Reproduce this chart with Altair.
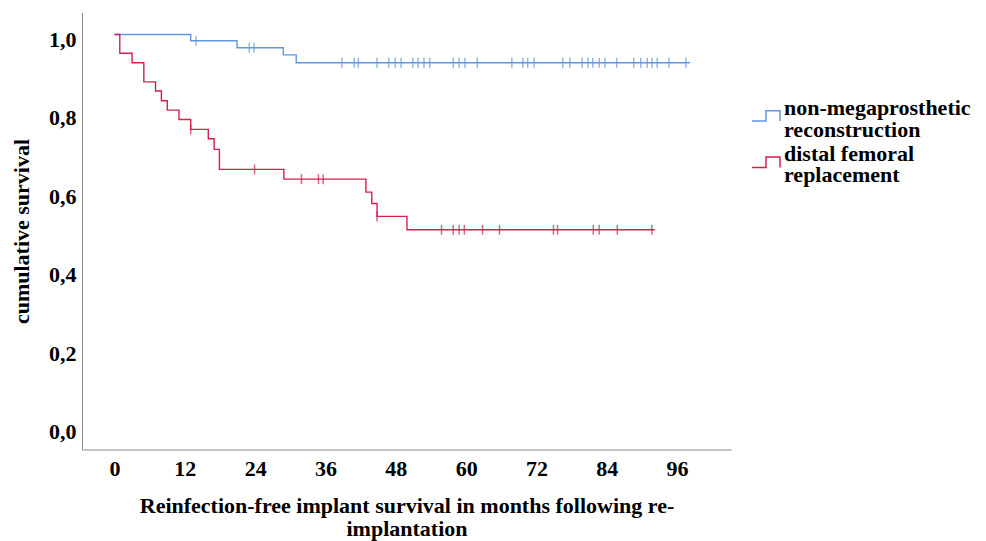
import altair as alt
import pandas as pd

groups = ["non-megaprosthetic reconstruction", "distal femoral replacement"]
legend_lines = [["non-megaprosthetic", "reconstruction"], ["distal femoral", "replacement"]]
colors = ["#5f97e2", "#d61f4a"]

# Kaplan-Meier steps (months, cumulative survival)
blue_event_months = [0, 13.0, 20.9, 28.8, 31.0, 98.2]
blue_survival = [1.0, 0.984, 0.966, 0.948, 0.928, 0.928]
blue_censored_months = [13.9, 23.0, 23.8, 38.8, 40.9, 41.6, 44.8, 46.8, 47.9, 48.9,
                        50.9, 51.8, 52.8, 53.8, 57.8, 58.8, 59.8, 61.9, 67.8, 69.7,
                        70.5, 71.6, 76.5, 77.7, 79.8, 80.8, 81.6, 82.7, 83.7, 85.7,
                        88.6, 89.8, 90.9, 91.7, 92.6, 94.6, 97.5]

red_event_months = [0, 0.9, 3.0, 5.0, 7.0, 8.0, 9.0, 11.0, 13.0, 16.0, 17.0, 17.9,
                    28.9, 42.9, 43.9, 44.8, 49.9, 92.2]
red_survival = [1.0, 0.952, 0.928, 0.879, 0.856, 0.831, 0.807, 0.783, 0.758, 0.734,
                0.707, 0.656, 0.631, 0.598, 0.569, 0.536, 0.502, 0.502]
red_censored_months = [13.0, 23.9, 31.9, 34.8, 35.6, 44.8, 55.8, 57.8, 58.8, 59.7,
                       62.8, 65.7, 74.9, 75.6, 81.7, 82.7, 85.8, 91.7]

x_ticks = [0, 12, 24, 36, 48, 60, 72, 84, 96]
y_ticks = [0.0, 0.2, 0.4, 0.6, 0.8, 1.0]


def step_value(times, surv, t):
    v = surv[0]
    for tt, s in zip(times, surv):
        if tt <= t:
            v = s
    return v


line_df = pd.DataFrame({
    "month": blue_event_months + red_event_months,
    "survival": blue_survival + red_survival,
    "group": [groups[0]] * len(blue_event_months) + [groups[1]] * len(red_event_months),
})
cens_df = pd.DataFrame({
    "month": blue_censored_months + red_censored_months,
    "survival": [step_value(blue_event_months, blue_survival, t) for t in blue_censored_months]
    + [step_value(red_event_months, red_survival, t) for t in red_censored_months],
    "group": [groups[0]] * len(blue_censored_months) + [groups[1]] * len(red_censored_months),
})

FONT = "Liberation Serif"
FS = 22
color_scale = alt.Scale(domain=groups, range=colors)

x_enc = alt.X(
    "month:Q",
    scale=alt.Scale(domain=[-5.55, 105.2], nice=False, zero=False),
    axis=alt.Axis(
        values=x_ticks, format="d", grid=False, ticks=False, tickSize=0,
        domainColor="#8c8c8c", domainWidth=1,
        labelFont=FONT, labelFontWeight="bold", labelFontSize=FS, labelColor="#000",
        labelPadding=9,
        title=["Reinfection-free implant survival in months following re-", "implantation"],
        titleFont=FONT, titleFontWeight="bold", titleFontSize=FS, titleColor="#000",
        titleLineHeight=23, titlePadding=16,
    ),
)
y_enc = alt.Y(
    "survival:Q",
    scale=alt.Scale(domain=[-0.0587, 1.0561], nice=False, zero=False),
    axis=alt.Axis(
        values=y_ticks, labelExpr="replace(format(datum.value, '.1f'), '.', ',')",
        grid=False, ticks=False, tickSize=0,
        domainColor="#8c8c8c", domainWidth=1,
        labelFont=FONT, labelFontWeight="bold", labelFontSize=FS, labelColor="#000",
        labelPadding=6, labelOffset=5,
        title="cumulative survival",
        titleFont=FONT, titleFontWeight="bold", titleFontSize=FS, titleColor="#000",
        titlePadding=15,
    ),
)

lines = alt.Chart(line_df).mark_line(interpolate="step-after", strokeWidth=1.4).encode(
    x=x_enc,
    y=y_enc,
    color=alt.Color("group:N", scale=color_scale, legend=None),
)

ticks = alt.Chart(cens_df).mark_tick(orient="vertical", size=10, thickness=1.5).encode(
    x="month:Q",
    y="survival:Q",
    color=alt.Color("group:N", scale=color_scale, legend=None),
)

# manual legend (step-shaped symbols + two-line labels)
STEP_PATH = "M-1,0.37H0V-0.37H1V0.37"
one = pd.DataFrame({"k": [0]})
legend_layers = []
sym_y = [103.4, 149.8]
text_y = [95.5, 141.0]
for i in range(2):
    legend_layers.append(
        alt.Chart(one).mark_point(shape=STEP_PATH, filled=False, size=784, strokeWidth=1.5,
                                  opacity=1, color=colors[i])
        .encode(x=alt.value(684), y=alt.value(sym_y[i]))
    )
    legend_layers.append(
        alt.Chart(one).mark_text(text=legend_lines[i], align="left", baseline="middle",
                                 lineHeight=21.5, font=FONT, fontWeight="bold",
                                 fontSize=FS, color="#000")
        .encode(x=alt.value(702), y=alt.value(text_y[i]))
    )

chart = (
    alt.layer(lines, ticks, *legend_layers)
    .properties(
        width=649, height=437,
        background="white",
        autosize=alt.AutoSizeParams(type="none"),
        padding={"left": 74, "top": 4.5, "right": 247, "bottom": 91},
    )
    .configure_view(stroke="transparent", strokeWidth=0)
)

chart.save("out.html", embed_options={"renderer": "svg", "actions": False})
